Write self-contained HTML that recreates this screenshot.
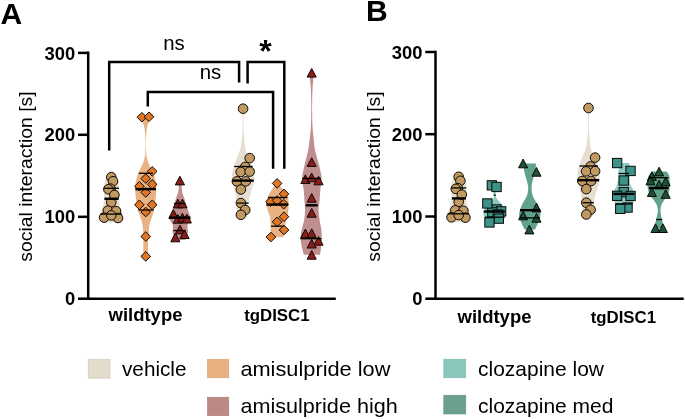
<!DOCTYPE html>
<html lang="en"><head><meta charset="utf-8"><title>Social interaction</title>
<style>html,body{margin:0;padding:0;background:#fff}svg{display:block}</style></head>
<body>
<svg width="685" height="419" viewBox="0 0 685 419">
<rect width="685" height="419" fill="#fff"/>
<g font-family="'Liberation Sans', Arial, sans-serif" fill="#000">
<text x="0.6" y="24" font-size="30" font-weight="bold">A</text>
<text x="365.9" y="21" font-size="30" font-weight="bold">B</text>
<path d="M88.2,51.6V298.7H335.8" fill="none" stroke="#000" stroke-width="2.5"/>
<path d="M78.0,52.9H88.2" stroke="#000" stroke-width="2.5"/>
<text x="75.2" y="59.5" font-size="18.4" font-weight="bold" text-anchor="end">300</text>
<path d="M78.0,134.8H88.2" stroke="#000" stroke-width="2.5"/>
<text x="75.2" y="141.4" font-size="18.4" font-weight="bold" text-anchor="end">200</text>
<path d="M78.0,216.8H88.2" stroke="#000" stroke-width="2.5"/>
<text x="75.2" y="223.4" font-size="18.4" font-weight="bold" text-anchor="end">100</text>
<path d="M78.0,298.7H88.2" stroke="#000" stroke-width="2.5"/>
<text x="75.2" y="305.3" font-size="18.4" font-weight="bold" text-anchor="end">0</text>
<path d="M435.5,50.8V298.7H683.7" fill="none" stroke="#000" stroke-width="2.5"/>
<path d="M425.3,52.0H435.5" stroke="#000" stroke-width="2.5"/>
<text x="422.5" y="58.6" font-size="18.4" font-weight="bold" text-anchor="end">300</text>
<path d="M425.3,134.2H435.5" stroke="#000" stroke-width="2.5"/>
<text x="422.5" y="140.8" font-size="18.4" font-weight="bold" text-anchor="end">200</text>
<path d="M425.3,216.5H435.5" stroke="#000" stroke-width="2.5"/>
<text x="422.5" y="223.1" font-size="18.4" font-weight="bold" text-anchor="end">100</text>
<path d="M425.3,298.7H435.5" stroke="#000" stroke-width="2.5"/>
<text x="422.5" y="305.3" font-size="18.4" font-weight="bold" text-anchor="end">0</text>
<text transform="translate(32.0,261.8) rotate(-90)" font-size="19" textLength="170.5" lengthAdjust="spacingAndGlyphs">social interaction [s]</text>
<text transform="translate(380.0,261.8) rotate(-90)" font-size="19" textLength="170.5" lengthAdjust="spacingAndGlyphs">social interaction [s]</text>
<text x="145.5" y="320.8" font-size="18" font-weight="bold" text-anchor="middle" textLength="74" lengthAdjust="spacingAndGlyphs">wildtype</text>
<text x="276.9" y="320.8" font-size="17.4" font-weight="bold" text-anchor="middle" textLength="65.4" lengthAdjust="spacingAndGlyphs">tgDISC1</text>
<text x="494.5" y="322.8" font-size="18" font-weight="bold" text-anchor="middle" textLength="74" lengthAdjust="spacingAndGlyphs">wildtype</text>
<text x="623.4" y="323.2" font-size="17.4" font-weight="bold" text-anchor="middle" textLength="65.4" lengthAdjust="spacingAndGlyphs">tgDISC1</text>
<path d="M108.6,172.5C108.3,173.1 107.4,174.4 106.8,176.0C106.2,177.6 105.4,179.8 104.8,182.0C104.2,184.2 103.5,186.3 103.4,189.0C103.3,191.7 104.3,195.2 104.2,198.0C104.1,200.8 103.7,203.3 103.0,206.0C102.3,208.7 100.6,211.8 100.2,214.0C99.8,216.2 100.1,217.6 100.4,219.0C100.7,220.4 101.7,221.9 102.0,222.5L120.6,222.5C120.8,221.9 121.8,220.4 122.0,219.0C122.2,217.6 122.3,216.2 122.0,214.0C121.7,211.8 120.5,208.7 120.0,206.0C119.5,203.3 118.9,200.8 118.8,198.0C118.7,195.2 119.3,191.7 119.2,189.0C119.1,186.3 118.6,184.2 118.0,182.0C117.4,179.8 116.5,177.6 115.8,176.0C115.1,174.4 114.3,173.1 114.0,172.5Z" fill="#e6dfd1"/>
<circle cx="111.3" cy="177.2" r="4.8" fill="#c09a62" stroke="#0d0903" stroke-width="1"/>
<circle cx="113.0" cy="181.2" r="4.8" fill="#c09a62" stroke="#0d0903" stroke-width="1"/>
<circle cx="110.5" cy="188.6" r="4.8" fill="#c09a62" stroke="#0d0903" stroke-width="1"/>
<circle cx="108.4" cy="189.3" r="4.8" fill="#c09a62" stroke="#0d0903" stroke-width="1"/>
<circle cx="111.3" cy="202.2" r="4.8" fill="#c09a62" stroke="#0d0903" stroke-width="1"/>
<circle cx="114.4" cy="195.0" r="4.8" fill="#c09a62" stroke="#0d0903" stroke-width="1"/>
<circle cx="107.9" cy="210.6" r="4.8" fill="#c09a62" stroke="#0d0903" stroke-width="1"/>
<circle cx="116.0" cy="211.1" r="4.8" fill="#c09a62" stroke="#0d0903" stroke-width="1"/>
<circle cx="104.1" cy="217.6" r="4.8" fill="#c09a62" stroke="#0d0903" stroke-width="1"/>
<circle cx="118.0" cy="218.0" r="4.8" fill="#c09a62" stroke="#0d0903" stroke-width="1"/>
<circle cx="111.3" cy="215.4" r="4.8" fill="#c09a62" stroke="#0d0903" stroke-width="1"/>
<path d="M103.6,188.3H118.9" stroke="#000" stroke-width="1.3"/>
<path d="M104.4,198.8H118.6" stroke="#000" stroke-width="2.4"/>
<path d="M100.3,214.1H121.8" stroke="#000" stroke-width="1.3"/>
<path d="M141.5,117.0C141.7,117.7 141.9,119.2 142.4,121.0C142.9,122.8 143.9,125.2 144.4,128.0C144.9,130.8 145.2,134.3 145.4,138.0C145.6,141.7 145.5,146.7 145.4,150.0C145.3,153.3 145.2,155.3 144.6,158.0C144.0,160.7 143.0,163.2 141.8,166.0C140.6,168.8 138.7,171.7 137.6,175.0C136.5,178.3 135.5,182.5 135.2,186.0C134.9,189.5 135.3,193.0 135.6,196.0C135.9,199.0 136.4,201.4 136.8,204.0C137.2,206.6 137.6,209.0 138.3,211.5C139.0,214.0 140.3,216.8 141.0,219.0C141.7,221.2 142.2,223.1 142.5,225.0C142.8,226.9 143.0,227.7 143.1,230.5C143.2,233.3 143.3,237.7 143.3,242.0C143.3,246.3 143.3,254.0 143.3,256.4L148.1,256.4C148.1,254.0 148.0,246.3 148.1,242.0C148.2,237.7 148.7,233.3 148.9,230.5C149.1,227.7 149.0,226.9 149.4,225.0C149.8,223.1 150.6,221.2 151.3,219.0C152.0,216.8 153.0,214.0 153.6,211.5C154.2,209.0 154.6,206.6 155.0,204.0C155.4,201.4 155.7,199.0 155.9,196.0C156.1,193.0 156.5,189.5 156.2,186.0C155.9,182.5 155.1,178.3 154.0,175.0C152.9,171.7 151.0,168.8 149.8,166.0C148.6,163.2 147.5,160.7 146.9,158.0C146.3,155.3 146.2,153.3 146.0,150.0C145.8,146.7 145.8,141.7 146.0,138.0C146.2,134.3 146.5,130.8 147.0,128.0C147.5,125.2 148.5,122.8 149.0,121.0C149.5,119.2 149.8,117.7 150.0,117.0Z" fill="#e8b282"/>
<path d="M141.9,112.4L146.7,117.2L141.9,122.0L137.1,117.2Z" fill="#e07726" stroke="#0d0903" stroke-width="1"/>
<path d="M149.0,112.0L153.8,116.8L149.0,121.6L144.2,116.8Z" fill="#e07726" stroke="#0d0903" stroke-width="1"/>
<path d="M152.2,166.6L157.0,171.4L152.2,176.2L147.4,171.4Z" fill="#e07726" stroke="#0d0903" stroke-width="1"/>
<path d="M145.7,173.8L150.5,178.6L145.7,183.4L140.9,178.6Z" fill="#e07726" stroke="#0d0903" stroke-width="1"/>
<path d="M152.2,179.6L157.0,184.4L152.2,189.2L147.4,184.4Z" fill="#e07726" stroke="#0d0903" stroke-width="1"/>
<path d="M139.4,181.5L144.2,186.3L139.4,191.1L134.6,186.3Z" fill="#e07726" stroke="#0d0903" stroke-width="1"/>
<path d="M145.7,187.6L150.5,192.4L145.7,197.2L140.9,192.4Z" fill="#e07726" stroke="#0d0903" stroke-width="1"/>
<path d="M139.4,200.0L144.2,204.8L139.4,209.6L134.6,204.8Z" fill="#e07726" stroke="#0d0903" stroke-width="1"/>
<path d="M152.2,200.0L157.0,204.8L152.2,209.6L147.4,204.8Z" fill="#e07726" stroke="#0d0903" stroke-width="1"/>
<path d="M145.7,207.2L150.5,212.0L145.7,216.8L140.9,212.0Z" fill="#e07726" stroke="#0d0903" stroke-width="1"/>
<path d="M145.8,231.7L150.6,236.5L145.8,241.3L140.9,236.5Z" fill="#e07726" stroke="#0d0903" stroke-width="1"/>
<path d="M145.8,251.6L150.6,256.4L145.8,261.2L140.9,256.4Z" fill="#e07726" stroke="#0d0903" stroke-width="1"/>
<path d="M138.8,173.3H152.8" stroke="#000" stroke-width="1.3"/>
<path d="M135.4,189.1H156.0" stroke="#000" stroke-width="2.4"/>
<path d="M138.3,210.0H153.6" stroke="#000" stroke-width="1.3"/>
<path d="M179.0,180.6C179.0,181.5 178.9,184.1 178.8,186.0C178.7,187.9 178.6,190.0 178.2,192.0C177.8,194.0 176.8,196.2 176.2,198.0C175.6,199.8 175.1,201.5 174.6,203.0C174.1,204.5 174.0,205.3 173.4,207.0C172.8,208.7 171.7,211.2 171.0,213.0C170.3,214.8 169.3,216.5 169.3,218.0C169.3,219.5 170.4,220.7 171.0,222.0C171.6,223.3 172.7,224.3 173.0,226.0C173.3,227.7 172.4,230.2 172.6,232.0C172.8,233.8 173.6,235.7 174.0,237.0C174.4,238.3 174.8,239.5 175.0,240.0L185.4,240.0C185.6,239.5 186.0,238.3 186.4,237.0C186.8,235.7 187.8,233.8 188.0,232.0C188.2,230.2 187.2,227.7 187.4,226.0C187.6,224.3 188.6,223.3 189.2,222.0C189.8,220.7 190.7,219.5 190.7,218.0C190.7,216.5 189.6,214.8 189.0,213.0C188.4,211.2 187.6,208.7 187.0,207.0C186.4,205.3 186.1,204.5 185.6,203.0C185.1,201.5 184.8,199.8 184.2,198.0C183.6,196.2 182.6,194.0 182.2,192.0C181.8,190.0 181.8,187.9 181.6,186.0C181.4,184.1 180.9,181.5 180.8,180.6Z" fill="#c08e8e"/>
<path d="M179.9,176.2L184.5,184.9L175.3,184.9Z" fill="#8a1d1c" stroke="#0d0903" stroke-width="1"/>
<path d="M177.9,199.2L182.5,207.9L173.3,207.9Z" fill="#8a1d1c" stroke="#0d0903" stroke-width="1"/>
<path d="M182.4,199.1L187.0,207.8L177.8,207.8Z" fill="#8a1d1c" stroke="#0d0903" stroke-width="1"/>
<path d="M173.4,209.7L178.0,218.3L168.8,218.3Z" fill="#8a1d1c" stroke="#0d0903" stroke-width="1"/>
<path d="M177.9,214.6L182.5,223.2L173.3,223.2Z" fill="#8a1d1c" stroke="#0d0903" stroke-width="1"/>
<path d="M182.4,213.3L187.0,222.0L177.8,222.0Z" fill="#8a1d1c" stroke="#0d0903" stroke-width="1"/>
<path d="M186.8,214.3L191.4,223.0L182.2,223.0Z" fill="#8a1d1c" stroke="#0d0903" stroke-width="1"/>
<path d="M180.0,225.2L184.6,233.8L175.4,233.8Z" fill="#8a1d1c" stroke="#0d0903" stroke-width="1"/>
<path d="M184.5,229.8L189.1,238.5L179.9,238.5Z" fill="#8a1d1c" stroke="#0d0903" stroke-width="1"/>
<path d="M175.3,233.1L179.9,241.8L170.8,241.8Z" fill="#8a1d1c" stroke="#0d0903" stroke-width="1"/>
<path d="M174.0,203.5H185.5" stroke="#000" stroke-width="1.3"/>
<path d="M169.3,217.7H190.4" stroke="#000" stroke-width="2.4"/>
<path d="M173.5,230.6H185.4" stroke="#000" stroke-width="1.3"/>
<path d="M242.2,108.7C242.3,110.2 242.5,114.5 242.6,118.0C242.7,121.5 242.7,126.3 242.6,130.0C242.5,133.7 242.1,137.0 241.8,140.0C241.5,143.0 241.2,145.5 240.6,148.0C240.0,150.5 238.9,152.7 238.0,155.0C237.1,157.3 236.1,159.5 235.2,162.0C234.3,164.5 233.4,167.0 232.8,170.0C232.2,173.0 231.5,176.7 231.8,180.0C232.1,183.3 233.8,186.7 234.6,190.0C235.4,193.3 236.0,196.7 236.4,200.0C236.8,203.3 236.6,207.2 236.8,210.0C237.0,212.8 237.3,215.4 237.4,216.5L247.2,216.5C247.3,215.4 247.5,212.8 247.8,210.0C248.1,207.2 248.2,203.3 248.8,200.0C249.4,196.7 250.7,193.3 251.6,190.0C252.5,186.7 253.9,183.3 254.2,180.0C254.5,176.7 254.0,173.0 253.4,170.0C252.8,167.0 251.6,164.5 250.6,162.0C249.6,159.5 248.3,157.3 247.4,155.0C246.5,152.7 245.7,150.5 245.2,148.0C244.7,145.5 244.7,143.0 244.4,140.0C244.1,137.0 243.7,133.7 243.6,130.0C243.5,126.3 243.5,121.5 243.6,118.0C243.7,114.5 243.9,110.2 244.0,108.7Z" fill="#e6dfd1"/>
<circle cx="243.1" cy="108.7" r="4.8" fill="#c09a62" stroke="#0d0903" stroke-width="1"/>
<circle cx="249.7" cy="158.1" r="4.8" fill="#c09a62" stroke="#0d0903" stroke-width="1"/>
<circle cx="245.2" cy="166.9" r="4.8" fill="#c09a62" stroke="#0d0903" stroke-width="1"/>
<circle cx="240.7" cy="171.9" r="4.8" fill="#c09a62" stroke="#0d0903" stroke-width="1"/>
<circle cx="249.7" cy="171.6" r="4.8" fill="#c09a62" stroke="#0d0903" stroke-width="1"/>
<circle cx="236.9" cy="181.4" r="4.8" fill="#c09a62" stroke="#0d0903" stroke-width="1"/>
<circle cx="245.7" cy="181.4" r="4.8" fill="#c09a62" stroke="#0d0903" stroke-width="1"/>
<circle cx="240.9" cy="189.5" r="4.8" fill="#c09a62" stroke="#0d0903" stroke-width="1"/>
<circle cx="240.9" cy="203.1" r="4.8" fill="#c09a62" stroke="#0d0903" stroke-width="1"/>
<circle cx="245.2" cy="210.0" r="4.8" fill="#c09a62" stroke="#0d0903" stroke-width="1"/>
<circle cx="240.9" cy="214.8" r="4.8" fill="#c09a62" stroke="#0d0903" stroke-width="1"/>
<path d="M234.1,166.5H252.6" stroke="#000" stroke-width="1.3"/>
<path d="M232.4,180.6H253.8" stroke="#000" stroke-width="2.4"/>
<path d="M237.1,203.1H248.6" stroke="#000" stroke-width="1.3"/>
<path d="M275.6,183.4C275.3,184.0 274.4,185.7 273.6,187.0C272.8,188.3 271.8,189.7 271.0,191.0C270.2,192.3 269.3,193.7 268.6,195.0C267.9,196.3 267.4,197.5 267.0,199.0C266.6,200.5 266.1,202.2 266.2,204.0C266.3,205.8 267.0,207.8 267.6,210.0C268.2,212.2 269.5,214.7 270.0,217.0C270.5,219.3 270.5,221.8 270.6,224.0C270.7,226.2 270.6,228.2 270.6,230.0C270.6,231.8 270.7,233.3 270.8,234.5C270.9,235.7 271.3,236.8 271.4,237.2L283.4,237.2C283.5,236.8 283.6,235.7 283.8,234.5C284.0,233.3 284.1,231.8 284.4,230.0C284.7,228.2 285.0,226.2 285.4,224.0C285.8,221.8 286.5,219.3 287.0,217.0C287.5,214.7 288.1,212.2 288.4,210.0C288.7,207.8 288.6,205.8 288.6,204.0C288.6,202.2 288.6,200.5 288.4,199.0C288.2,197.5 287.9,196.3 287.2,195.0C286.5,193.7 285.5,192.3 284.4,191.0C283.3,189.7 281.7,188.3 280.8,187.0C279.9,185.7 279.1,184.0 278.8,183.4Z" fill="#e8b282"/>
<path d="M277.1,178.6L281.9,183.4L277.1,188.2L272.3,183.4Z" fill="#e07726" stroke="#0d0903" stroke-width="1"/>
<path d="M284.0,189.1L288.8,193.9L284.0,198.7L279.2,193.9Z" fill="#e07726" stroke="#0d0903" stroke-width="1"/>
<path d="M270.5,196.9L275.3,201.7L270.5,206.5L265.7,201.7Z" fill="#e07726" stroke="#0d0903" stroke-width="1"/>
<path d="M277.1,195.7L281.9,200.5L277.1,205.3L272.3,200.5Z" fill="#e07726" stroke="#0d0903" stroke-width="1"/>
<path d="M283.7,199.4L288.5,204.2L283.7,209.0L278.9,204.2Z" fill="#e07726" stroke="#0d0903" stroke-width="1"/>
<path d="M284.0,211.9L288.8,216.7L284.0,221.5L279.2,216.7Z" fill="#e07726" stroke="#0d0903" stroke-width="1"/>
<path d="M277.1,217.0L281.9,221.8L277.1,226.6L272.3,221.8Z" fill="#e07726" stroke="#0d0903" stroke-width="1"/>
<path d="M284.0,225.2L288.8,230.0L284.0,234.8L279.2,230.0Z" fill="#e07726" stroke="#0d0903" stroke-width="1"/>
<path d="M270.9,232.2L275.7,237.0L270.9,241.8L266.1,237.0Z" fill="#e07726" stroke="#0d0903" stroke-width="1"/>
<path d="M268.1,197.5H287.4" stroke="#000" stroke-width="1.3"/>
<path d="M266.4,204.6H288.0" stroke="#000" stroke-width="2.4"/>
<path d="M271.0,226.2H283.8" stroke="#000" stroke-width="1.3"/>
<path d="M309.8,72.8C309.8,73.7 309.7,75.5 309.9,78.0C310.1,80.5 310.6,84.3 310.8,88.0C311.0,91.7 311.1,95.5 311.2,100.0C311.3,104.5 311.3,110.3 311.2,115.0C311.1,119.7 311.1,123.8 310.8,128.0C310.5,132.2 310.0,136.3 309.6,140.0C309.2,143.7 308.8,146.7 308.2,150.0C307.6,153.3 306.6,156.7 305.8,160.0C305.0,163.3 304.0,166.8 303.4,170.0C302.8,173.2 302.1,175.7 302.1,179.0C302.2,182.3 303.3,186.5 303.7,190.0C304.1,193.5 304.2,196.7 304.4,200.0C304.6,203.3 305.0,206.7 305.0,210.0C305.0,213.3 304.8,216.7 304.2,220.0C303.6,223.3 302.2,227.0 301.6,230.0C301.0,233.0 300.6,235.3 300.6,238.0C300.6,240.7 301.2,243.8 301.6,246.0C302.0,248.2 302.4,249.5 302.8,251.0C303.2,252.5 303.6,254.2 303.8,254.8L320.0,254.8C320.1,254.2 320.4,252.5 320.6,251.0C320.8,249.5 321.0,248.2 321.2,246.0C321.4,243.8 321.8,240.7 321.8,238.0C321.8,235.3 321.8,233.0 321.4,230.0C321.0,227.0 320.1,223.3 319.6,220.0C319.1,216.7 318.6,213.3 318.6,210.0C318.6,206.7 319.3,203.3 319.6,200.0C319.9,196.7 320.0,193.5 320.3,190.0C320.6,186.5 321.6,182.3 321.6,179.0C321.6,175.7 320.9,173.2 320.2,170.0C319.5,166.8 318.5,163.3 317.6,160.0C316.7,156.7 315.6,153.3 315.0,150.0C314.4,146.7 314.2,143.7 313.8,140.0C313.4,136.3 312.9,132.2 312.6,128.0C312.3,123.8 312.3,119.7 312.2,115.0C312.1,110.3 312.1,104.5 312.2,100.0C312.3,95.5 312.4,91.7 312.6,88.0C312.8,84.3 313.3,80.5 313.5,78.0C313.7,75.5 313.6,73.7 313.6,72.8Z" fill="#c08e8e"/>
<path d="M311.7,68.5L316.2,77.1L307.1,77.1Z" fill="#8a1d1c" stroke="#0d0903" stroke-width="1"/>
<path d="M311.7,157.8L316.2,166.4L307.1,166.4Z" fill="#8a1d1c" stroke="#0d0903" stroke-width="1"/>
<path d="M305.4,174.8L309.9,183.5L300.8,183.5Z" fill="#8a1d1c" stroke="#0d0903" stroke-width="1"/>
<path d="M311.7,173.1L316.2,181.8L307.1,181.8Z" fill="#8a1d1c" stroke="#0d0903" stroke-width="1"/>
<path d="M318.5,176.2L323.1,184.8L313.9,184.8Z" fill="#8a1d1c" stroke="#0d0903" stroke-width="1"/>
<path d="M311.7,193.6L316.2,202.2L307.1,202.2Z" fill="#8a1d1c" stroke="#0d0903" stroke-width="1"/>
<path d="M311.7,208.5L316.2,217.2L307.1,217.2Z" fill="#8a1d1c" stroke="#0d0903" stroke-width="1"/>
<path d="M305.4,229.1L309.9,237.8L300.8,237.8Z" fill="#8a1d1c" stroke="#0d0903" stroke-width="1"/>
<path d="M311.7,228.8L316.2,237.4L307.1,237.4Z" fill="#8a1d1c" stroke="#0d0903" stroke-width="1"/>
<path d="M318.5,236.6L323.1,245.2L313.9,245.2Z" fill="#8a1d1c" stroke="#0d0903" stroke-width="1"/>
<path d="M311.7,239.3L316.2,248.0L307.1,248.0Z" fill="#8a1d1c" stroke="#0d0903" stroke-width="1"/>
<path d="M311.7,250.5L316.2,259.2L307.1,259.2Z" fill="#8a1d1c" stroke="#0d0903" stroke-width="1"/>
<path d="M302.1,178.4H320.8" stroke="#000" stroke-width="1.3"/>
<path d="M305.7,205.3H317.7" stroke="#000" stroke-width="2.4"/>
<path d="M300.4,238.7H321.4" stroke="#000" stroke-width="1.3"/>
<g fill="none" stroke="#000" stroke-width="2.5">
<path d="M109.2,150.6V62H239.1V82.6"/>
<path d="M247.6,83.4V62H284.3V168.7"/>
<path d="M147.8,106.4V92H273.1V168.7"/>
</g>
<text x="174" y="50" font-size="20.4" text-anchor="middle">ns</text>
<text x="210.5" y="78.6" font-size="20.4" text-anchor="middle">ns</text>
<text x="265.5" y="61.5" font-size="32" font-weight="bold" text-anchor="middle">*</text>
<path d="M456.0,172.0C455.7,172.6 454.8,174.0 454.2,175.6C453.6,177.1 452.8,179.4 452.2,181.6C451.6,183.7 450.9,185.9 450.8,188.6C450.7,191.3 451.7,194.8 451.6,197.6C451.5,200.5 451.1,203.0 450.4,205.7C449.7,208.3 448.0,211.5 447.6,213.7C447.2,215.9 447.5,217.3 447.8,218.7C448.1,220.1 449.1,221.6 449.4,222.2L468.0,222.2C468.2,221.6 469.2,220.1 469.4,218.7C469.6,217.3 469.7,215.9 469.4,213.7C469.1,211.5 467.9,208.3 467.4,205.7C466.9,203.0 466.3,200.5 466.2,197.6C466.1,194.8 466.7,191.3 466.6,188.6C466.5,185.9 466.0,183.7 465.4,181.6C464.8,179.4 463.9,177.1 463.2,175.6C462.5,174.0 461.7,172.6 461.4,172.0Z" fill="#e6dfd1"/>
<circle cx="458.7" cy="176.8" r="4.8" fill="#c09a62" stroke="#0d0903" stroke-width="1"/>
<circle cx="460.4" cy="180.8" r="4.8" fill="#c09a62" stroke="#0d0903" stroke-width="1"/>
<circle cx="457.9" cy="188.2" r="4.8" fill="#c09a62" stroke="#0d0903" stroke-width="1"/>
<circle cx="455.8" cy="188.9" r="4.8" fill="#c09a62" stroke="#0d0903" stroke-width="1"/>
<circle cx="458.7" cy="201.8" r="4.8" fill="#c09a62" stroke="#0d0903" stroke-width="1"/>
<circle cx="461.8" cy="194.6" r="4.8" fill="#c09a62" stroke="#0d0903" stroke-width="1"/>
<circle cx="455.3" cy="210.3" r="4.8" fill="#c09a62" stroke="#0d0903" stroke-width="1"/>
<circle cx="463.4" cy="210.8" r="4.8" fill="#c09a62" stroke="#0d0903" stroke-width="1"/>
<circle cx="451.5" cy="217.3" r="4.8" fill="#c09a62" stroke="#0d0903" stroke-width="1"/>
<circle cx="465.4" cy="217.7" r="4.8" fill="#c09a62" stroke="#0d0903" stroke-width="1"/>
<circle cx="458.7" cy="215.1" r="4.8" fill="#c09a62" stroke="#0d0903" stroke-width="1"/>
<path d="M451.0,187.9H466.3" stroke="#000" stroke-width="1.3"/>
<path d="M451.8,198.4H466.0" stroke="#000" stroke-width="2.4"/>
<path d="M447.7,213.8H469.2" stroke="#000" stroke-width="1.3"/>
<path d="M490.4,185.3C490.5,185.8 490.8,187.1 491.2,188.0C491.6,188.9 492.4,189.8 492.8,191.0C493.2,192.2 493.7,193.7 493.8,195.0C493.9,196.3 494.0,197.5 493.2,199.0C492.4,200.5 490.4,202.3 489.0,204.0C487.6,205.7 485.6,207.5 484.6,209.0C483.6,210.5 483.2,211.5 483.2,213.0C483.2,214.5 484.0,216.4 484.6,218.0C485.2,219.6 486.6,221.8 487.0,222.5L502.0,222.5C502.4,221.8 504.0,219.6 504.6,218.0C505.2,216.4 505.6,214.5 505.6,213.0C505.6,211.5 505.3,210.5 504.6,209.0C503.9,207.5 502.7,205.7 501.5,204.0C500.3,202.3 498.2,200.5 497.2,199.0C496.2,197.5 495.7,196.3 495.6,195.0C495.5,193.7 496.0,192.2 496.4,191.0C496.8,189.8 497.5,188.9 497.8,188.0C498.1,187.1 498.1,185.8 498.2,185.3Z" fill="#8fcbc2"/>
<rect x="487.2" y="180.7" width="9.3" height="9.3" fill="#3b9389" stroke="#0d0903" stroke-width="1"/>
<rect x="491.9" y="182.3" width="9.3" height="9.3" fill="#3b9389" stroke="#0d0903" stroke-width="1"/>
<rect x="491.9" y="204.8" width="9.3" height="9.3" fill="#3b9389" stroke="#0d0903" stroke-width="1"/>
<rect x="496.5" y="206.7" width="9.3" height="9.3" fill="#3b9389" stroke="#0d0903" stroke-width="1"/>
<rect x="487.7" y="207.7" width="9.3" height="9.3" fill="#3b9389" stroke="#0d0903" stroke-width="1"/>
<rect x="482.7" y="198.8" width="9.3" height="9.3" fill="#3b9389" stroke="#0d0903" stroke-width="1"/>
<rect x="493.2" y="209.8" width="9.3" height="9.3" fill="#3b9389" stroke="#0d0903" stroke-width="1"/>
<rect x="494.2" y="214.0" width="9.3" height="9.3" fill="#3b9389" stroke="#0d0903" stroke-width="1"/>
<rect x="484.8" y="217.8" width="9.3" height="9.3" fill="#3b9389" stroke="#0d0903" stroke-width="1"/>
<path d="M493.6,195.1H495.8" stroke="#000" stroke-width="1.3"/>
<path d="M483.8,211.5H504.8" stroke="#000" stroke-width="2.4"/>
<path d="M485.0,217.2H504.6" stroke="#000" stroke-width="1.3"/>
<path d="M523.6,163.4C523.6,164.0 523.5,165.6 523.6,167.0C523.7,168.4 523.9,169.8 524.4,172.0C524.9,174.2 526.0,177.3 526.6,180.0C527.2,182.7 528.2,185.3 528.2,188.0C528.2,190.7 527.8,193.3 526.8,196.0C525.8,198.7 523.6,201.3 522.4,204.0C521.2,206.7 519.9,209.7 519.4,212.0C518.9,214.3 519.2,216.0 519.6,218.0C520.0,220.0 521.2,222.1 522.0,224.0C522.8,225.9 524.2,228.7 524.6,229.6L535.0,229.6C535.4,228.7 536.8,225.9 537.6,224.0C538.4,222.1 539.6,220.0 540.0,218.0C540.4,216.0 540.7,214.3 540.2,212.0C539.7,209.7 538.4,206.7 537.2,204.0C536.0,201.3 533.7,198.7 532.8,196.0C531.9,193.3 531.6,190.7 531.6,188.0C531.6,185.3 532.2,182.7 532.8,180.0C533.4,177.3 534.5,174.2 535.0,172.0C535.5,169.8 535.6,168.4 535.8,167.0C535.9,165.6 535.9,164.0 535.9,163.4Z" fill="#60a28c"/>
<path d="M523.1,159.1L527.6,167.8L518.6,167.8Z" fill="#1c5338" stroke="#0d0903" stroke-width="1"/>
<path d="M536.5,167.5L541.0,176.2L532.0,176.2Z" fill="#1c5338" stroke="#0d0903" stroke-width="1"/>
<path d="M536.5,203.2L541.0,211.9L532.0,211.9Z" fill="#1c5338" stroke="#0d0903" stroke-width="1"/>
<path d="M523.1,211.1L527.6,219.8L518.6,219.8Z" fill="#1c5338" stroke="#0d0903" stroke-width="1"/>
<path d="M536.5,213.5L541.0,222.2L532.0,222.2Z" fill="#1c5338" stroke="#0d0903" stroke-width="1"/>
<path d="M529.4,225.2L533.9,233.9L524.9,233.9Z" fill="#1c5338" stroke="#0d0903" stroke-width="1"/>
<path d="M520.0,210.2H540.2" stroke="#000" stroke-width="2.4"/>
<path d="M519.6,217.9H540.0" stroke="#000" stroke-width="1.3"/>
<path d="M587.6,108.0C587.7,109.6 587.9,113.8 588.0,117.3C588.1,120.9 588.1,125.7 588.0,129.4C587.9,133.1 587.5,136.4 587.2,139.4C586.9,142.4 586.6,144.9 586.0,147.4C585.4,150.0 584.3,152.1 583.4,154.5C582.5,156.8 581.5,159.0 580.6,161.5C579.7,164.0 578.8,166.5 578.2,169.5C577.6,172.5 576.9,176.2 577.2,179.6C577.5,182.9 579.2,186.3 580.0,189.6C580.8,192.9 581.4,196.3 581.8,199.6C582.2,203.0 582.0,206.9 582.2,209.7C582.4,212.4 582.7,215.1 582.8,216.2L592.6,216.2C592.7,215.1 592.9,212.4 593.2,209.7C593.5,206.9 593.6,203.0 594.2,199.6C594.8,196.3 596.1,192.9 597.0,189.6C597.9,186.3 599.3,182.9 599.6,179.6C599.9,176.2 599.4,172.5 598.8,169.5C598.2,166.5 597.0,164.0 596.0,161.5C595.0,159.0 593.7,156.8 592.8,154.5C591.9,152.1 591.1,150.0 590.6,147.4C590.1,144.9 590.1,142.4 589.8,139.4C589.5,136.4 589.1,133.1 589.0,129.4C588.9,125.7 588.9,120.9 589.0,117.3C589.1,113.8 589.3,109.6 589.4,108.0Z" fill="#e6dfd1"/>
<circle cx="588.5" cy="108.0" r="4.8" fill="#c09a62" stroke="#0d0903" stroke-width="1"/>
<circle cx="595.1" cy="157.6" r="4.8" fill="#c09a62" stroke="#0d0903" stroke-width="1"/>
<circle cx="590.6" cy="166.4" r="4.8" fill="#c09a62" stroke="#0d0903" stroke-width="1"/>
<circle cx="586.1" cy="171.4" r="4.8" fill="#c09a62" stroke="#0d0903" stroke-width="1"/>
<circle cx="595.1" cy="171.1" r="4.8" fill="#c09a62" stroke="#0d0903" stroke-width="1"/>
<circle cx="582.3" cy="181.0" r="4.8" fill="#c09a62" stroke="#0d0903" stroke-width="1"/>
<circle cx="591.1" cy="181.0" r="4.8" fill="#c09a62" stroke="#0d0903" stroke-width="1"/>
<circle cx="586.3" cy="189.1" r="4.8" fill="#c09a62" stroke="#0d0903" stroke-width="1"/>
<circle cx="586.3" cy="202.7" r="4.8" fill="#c09a62" stroke="#0d0903" stroke-width="1"/>
<circle cx="590.6" cy="209.7" r="4.8" fill="#c09a62" stroke="#0d0903" stroke-width="1"/>
<circle cx="586.3" cy="214.5" r="4.8" fill="#c09a62" stroke="#0d0903" stroke-width="1"/>
<path d="M579.5,166.0H598.0" stroke="#000" stroke-width="1.3"/>
<path d="M577.8,180.2H599.2" stroke="#000" stroke-width="2.4"/>
<path d="M582.5,202.7H594.0" stroke="#000" stroke-width="1.3"/>
<path d="M621.0,163.1C620.8,163.8 620.0,165.7 619.6,167.0C619.2,168.3 618.6,169.2 618.4,171.0C618.2,172.8 618.4,175.7 618.2,178.0C618.0,180.3 617.6,183.0 617.0,185.0C616.4,187.0 615.1,188.3 614.4,190.0C613.7,191.7 612.7,193.3 612.6,195.0C612.5,196.7 613.0,198.3 613.6,200.0C614.2,201.7 615.3,203.5 616.0,205.0C616.7,206.5 617.3,208.2 617.6,208.8L630.8,208.8C631.0,208.2 631.6,206.5 632.2,205.0C632.8,203.5 633.7,201.7 634.2,200.0C634.7,198.3 635.2,196.7 635.0,195.0C634.8,193.3 633.9,191.7 633.2,190.0C632.5,188.3 631.2,187.0 630.6,185.0C630.0,183.0 629.6,180.3 629.6,178.0C629.6,175.7 630.3,172.8 630.4,171.0C630.5,169.2 630.4,168.3 630.2,167.0C630.0,165.7 629.2,163.8 629.0,163.1Z" fill="#8fcbc2"/>
<rect x="612.5" y="158.4" width="9.3" height="9.3" fill="#3b9389" stroke="#0d0903" stroke-width="1"/>
<rect x="625.9" y="166.3" width="9.3" height="9.3" fill="#3b9389" stroke="#0d0903" stroke-width="1"/>
<rect x="619.1" y="175.9" width="9.3" height="9.3" fill="#3b9389" stroke="#0d0903" stroke-width="1"/>
<rect x="619.1" y="187.5" width="9.3" height="9.3" fill="#3b9389" stroke="#0d0903" stroke-width="1"/>
<rect x="612.5" y="191.2" width="9.3" height="9.3" fill="#3b9389" stroke="#0d0903" stroke-width="1"/>
<rect x="625.9" y="191.3" width="9.3" height="9.3" fill="#3b9389" stroke="#0d0903" stroke-width="1"/>
<rect x="622.9" y="202.9" width="9.3" height="9.3" fill="#3b9389" stroke="#0d0903" stroke-width="1"/>
<rect x="615.6" y="204.2" width="9.3" height="9.3" fill="#3b9389" stroke="#0d0903" stroke-width="1"/>
<path d="M618.6,173.5H629.1" stroke="#000" stroke-width="1.3"/>
<path d="M613.5,193.9H634.4" stroke="#000" stroke-width="2.4"/>
<path d="M615.3,203.9H632.6" stroke="#000" stroke-width="1.3"/>
<path d="M652.4,171.6C652.0,172.0 650.7,173.1 650.0,174.0C649.3,174.9 648.6,175.3 648.2,177.0C647.8,178.7 647.4,181.7 647.4,184.0C647.4,186.3 647.9,189.0 648.4,191.0C648.9,193.0 649.7,194.5 650.6,196.0C651.5,197.5 652.6,198.5 653.6,200.0C654.6,201.5 656.1,203.3 656.8,205.0C657.5,206.7 657.8,208.3 657.9,210.0C658.0,211.7 657.5,213.3 657.2,215.0C656.9,216.7 656.4,218.2 656.0,220.0C655.6,221.8 655.0,224.6 654.8,226.0C654.6,227.4 654.8,227.8 654.8,228.2L663.4,228.2C663.4,227.8 663.6,227.4 663.4,226.0C663.2,224.6 662.6,221.8 662.2,220.0C661.8,218.2 661.3,216.7 661.0,215.0C660.7,213.3 660.4,211.7 660.5,210.0C660.6,208.3 660.8,206.7 661.4,205.0C662.0,203.3 663.3,201.5 664.2,200.0C665.1,198.5 666.2,197.5 667.0,196.0C667.8,194.5 668.7,193.0 669.2,191.0C669.7,189.0 669.8,186.3 669.8,184.0C669.8,181.7 669.6,178.7 669.4,177.0C669.2,175.3 668.9,174.9 668.4,174.0C667.9,173.1 666.9,172.0 666.6,171.6Z" fill="#60a28c"/>
<path d="M659.1,167.2L663.6,175.9L654.6,175.9Z" fill="#1c5338" stroke="#0d0903" stroke-width="1"/>
<path d="M651.9,171.8L656.4,180.5L647.4,180.5Z" fill="#1c5338" stroke="#0d0903" stroke-width="1"/>
<path d="M650.5,176.2L655.0,184.9L646.0,184.9Z" fill="#1c5338" stroke="#0d0903" stroke-width="1"/>
<path d="M665.7,177.2L670.2,185.9L661.2,185.9Z" fill="#1c5338" stroke="#0d0903" stroke-width="1"/>
<path d="M659.1,180.2L663.6,188.8L654.6,188.8Z" fill="#1c5338" stroke="#0d0903" stroke-width="1"/>
<path d="M651.9,187.8L656.4,196.5L647.4,196.5Z" fill="#1c5338" stroke="#0d0903" stroke-width="1"/>
<path d="M665.7,189.7L670.2,198.3L661.2,198.3Z" fill="#1c5338" stroke="#0d0903" stroke-width="1"/>
<path d="M655.5,223.8L660.0,232.5L651.0,232.5Z" fill="#1c5338" stroke="#0d0903" stroke-width="1"/>
<path d="M662.9,223.8L667.4,232.5L658.4,232.5Z" fill="#1c5338" stroke="#0d0903" stroke-width="1"/>
<path d="M649.0,177.7H668.6" stroke="#000" stroke-width="1.3"/>
<path d="M649.0,188.0H668.6" stroke="#000" stroke-width="2.4"/>
<path d="M656.1,219.5H662.1" stroke="#000" stroke-width="1.3"/>
<rect x="88.2" y="359.4" width="21.8" height="18.8" fill="#e3dccb" stroke="#cfc8b8" stroke-width="0.6"/>
<rect x="207.4" y="359.3" width="21.4" height="18.5" fill="#e8b181" stroke="#d9a274" stroke-width="0.6"/>
<rect x="207.4" y="397.2" width="21.4" height="18.5" fill="#bb8a87" stroke="#ad7e7b" stroke-width="0.6"/>
<rect x="443.8" y="359.2" width="22.0" height="18.6" fill="#8bc6bd" stroke="#7db9b0" stroke-width="0.6"/>
<rect x="443.8" y="395.2" width="22.0" height="18.8" fill="#6aa08d" stroke="#5f937f" stroke-width="0.6"/>
<text x="122" y="375.6" font-size="21" textLength="64.5" lengthAdjust="spacingAndGlyphs">vehicle</text>
<text x="240.4" y="375.6" font-size="21" textLength="150" lengthAdjust="spacingAndGlyphs">amisulpride low</text>
<text x="240.4" y="412.6" font-size="21" textLength="157.4" lengthAdjust="spacingAndGlyphs">amisulpride high</text>
<text x="478" y="376.2" font-size="21" textLength="126" lengthAdjust="spacingAndGlyphs">clozapine low</text>
<text x="478" y="412.6" font-size="21" textLength="135.5" lengthAdjust="spacingAndGlyphs">clozapine med</text>
</g></svg>
</body></html>
